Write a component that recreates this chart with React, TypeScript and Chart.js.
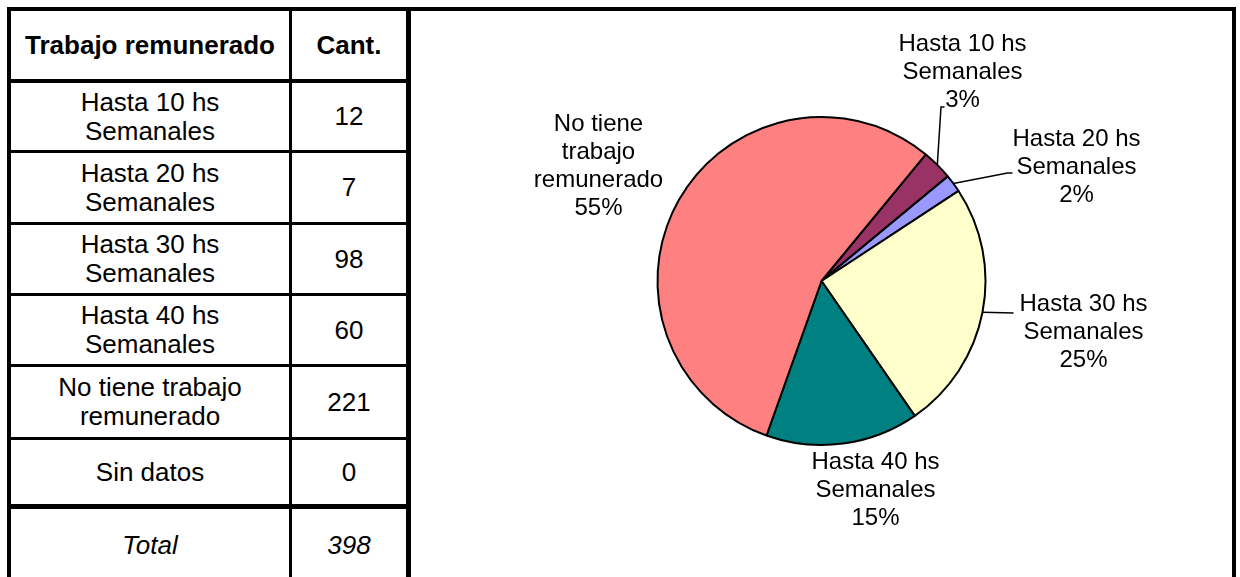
import React, { useEffect, useRef } from "react";
import { Chart, registerables } from "chart.js";

Chart.register(...registerables);

// ---- data ----
const categories = [
  "Hasta 10 hs Semanales",
  "Hasta 20 hs Semanales",
  "Hasta 30 hs Semanales",
  "Hasta 40 hs Semanales",
  "No tiene trabajo remunerado",
  "Sin datos",
];
const counts = [12, 7, 98, 60, 221, 0];
const pctLabels = ["3%", "2%", "25%", "15%", "55%", ""];
const tableLines = [
  ["Hasta 10 hs", "Semanales"],
  ["Hasta 20 hs", "Semanales"],
  ["Hasta 30 hs", "Semanales"],
  ["Hasta 40 hs", "Semanales"],
  ["No tiene trabajo", "remunerado"],
  ["Sin datos"],
];
const chartLabelLines = [
  ["Hasta 10 hs", "Semanales"],
  ["Hasta 20 hs", "Semanales"],
  ["Hasta 30 hs", "Semanales"],
  ["Hasta 40 hs", "Semanales"],
  ["No tiene", "trabajo", "remunerado"],
  [],
];
const headerLabels = ["Trabajo remunerado", "Cant."];
const totalLabel = "Total";

// ---- styles / layout (not data) ----
const sliceColors = ["#993366", "#9999FF", "#FFFFCC", "#008080", "#FF8080", "#CCFFFF"];
const FONT = '"Liberation Sans", Arial, Helvetica, sans-serif';

// label placement relative to pie centre (text centre x, first baseline y), leader points
const labelLayout: { dx: number; dy: number; leader: number[][] | null }[] = [
  { dx: 141, dy: -230, leader: [[119.5, -174], [123, -174]] },
  { dx: 255, dy: -135, leader: [[186, -108], [191, -108]] },
  { dx: 262, dy: 30, leader: [[192, 32]] },
  { dx: 54, dy: 188, leader: null },
  { dx: -223, dy: -150, leader: null },
  { dx: 0, dy: 0, leader: null },
];

const rows = [
  { top: 83, bottom: 150 },
  { top: 153, bottom: 222 },
  { top: 225, bottom: 293 },
  { top: 296, bottom: 364 },
  { top: 367, bottom: 437 },
  { top: 440, bottom: 504 },
];
const headerRow = { top: 11, bottom: 79 };
const totalRow = { top: 509, bottom: 581 };
const col1 = { left: 11, right: 289 };
const col2 = { left: 292, right: 406 };

const hLines = [
  { top: 79, h: 4 },
  { top: 150, h: 3 },
  { top: 222, h: 3 },
  { top: 293, h: 3 },
  { top: 364, h: 3 },
  { top: 437, h: 3 },
  { top: 504, h: 5 },
];

const labelPlugin = {
  id: "pieLabels",
  afterDatasetsDraw(chart: any) {
    const ctx = chart.ctx;
    const meta = chart.getDatasetMeta(0);
    ctx.save();
    ctx.fillStyle = "#000";
    ctx.strokeStyle = "#000";
    ctx.lineWidth = 1.5;
    ctx.font = `24px ${FONT}`;
    ctx.textAlign = "center";
    ctx.textBaseline = "alphabetic";
    meta.data.forEach((arc: any, i: number) => {
      if (!counts[i]) return;
      const lay = labelLayout[i];
      const cx = arc.x;
      const cy = arc.y;
      const mid = (arc.startAngle + arc.endAngle) / 2;
      if (lay.leader) {
        ctx.beginPath();
        ctx.moveTo(cx + Math.cos(mid) * arc.outerRadius, cy + Math.sin(mid) * arc.outerRadius);
        lay.leader.forEach((p) => ctx.lineTo(cx + p[0], cy + p[1]));
        ctx.stroke();
      }
      const lines = [...chartLabelLines[i], pctLabels[i]];
      lines.forEach((t, k) => {
        ctx.fillText(t, cx + lay.dx, cy + lay.dy + k * 28);
      });
    });
    ctx.restore();
  },
};

function PieChart() {
  const ref = useRef<HTMLCanvasElement>(null);
  useEffect(() => {
    if (!ref.current) return;
    const chart = new Chart(ref.current, {
      type: "pie",
      data: {
        labels: categories,
        datasets: [
          {
            data: counts,
            backgroundColor: sliceColors,
            borderColor: "#000",
            borderWidth: 2,
          },
        ],
      },
      options: {
        responsive: false,
        animation: false,
        rotation: 39.5,
        radius: 164,
        layout: { padding: { top: 0, bottom: 26, left: 0, right: 0 } },
        plugins: {
          legend: { display: false },
          tooltip: { enabled: false },
        },
      },
      plugins: [labelPlugin],
    });
    return () => chart.destroy();
  }, []);
  return (
    <canvas
      ref={ref}
      width={821}
      height={566}
      style={{ position: "absolute", left: 411, top: 11, width: 821, height: 566 }}
    />
  );
}

function Cell(props: {
  left: number;
  right: number;
  top: number;
  bottom: number;
  bold?: boolean;
  italic?: boolean;
  children: React.ReactNode;
}) {
  return (
    <div
      style={{
        position: "absolute",
        left: props.left,
        top: props.top,
        width: props.right - props.left,
        height: props.bottom - props.top,
        display: "flex",
        alignItems: "center",
        justifyContent: "center",
        textAlign: "center",
        fontFamily: FONT,
        fontSize: 26,
        lineHeight: "29px",
        fontWeight: props.bold ? "bold" : "normal",
        fontStyle: props.italic ? "italic" : "normal",
        color: "#000",
        whiteSpace: "nowrap",
      }}
    >
      <div>{props.children}</div>
    </div>
  );
}

const blk = (left: number, top: number, width: number, height: number, key: string) => (
  <div
    key={key}
    style={{ position: "absolute", left, top, width, height, background: "#000" }}
  />
);

export default function App() {
  const total = counts.reduce((a, b) => a + b, 0);
  return (
    <div
      style={{
        position: "absolute",
        left: 0,
        top: 0,
        width: 1240,
        height: 577,
        overflow: "hidden",
        background: "#fff",
      }}
    >
      <Cell {...col1} {...headerRow} bold>
        {headerLabels[0]}
      </Cell>
      <Cell {...col2} {...headerRow} bold>
        {headerLabels[1]}
      </Cell>
      {rows.map((r, i) => (
        <React.Fragment key={i}>
          <Cell {...col1} {...r}>
            {tableLines[i].map((t, k) => (
              <div key={k}>{t}</div>
            ))}
          </Cell>
          <Cell {...col2} {...r}>
            {counts[i]}
          </Cell>
        </React.Fragment>
      ))}
      <Cell {...col1} {...totalRow} italic>
        {totalLabel}
      </Cell>
      <Cell {...col2} {...totalRow} italic>
        {total}
      </Cell>

      <PieChart />

      {blk(7, 7, 1229, 4, "top")}
      {blk(7, 7, 4, 570, "left")}
      {blk(289, 7, 3, 570, "col")}
      {blk(406, 7, 5, 570, "tright")}
      {blk(1232, 7, 4, 570, "cright")}
      {hLines.map((l, i) => blk(7, l.top, 404, l.h, "h" + i))}
    </div>
  );
}
